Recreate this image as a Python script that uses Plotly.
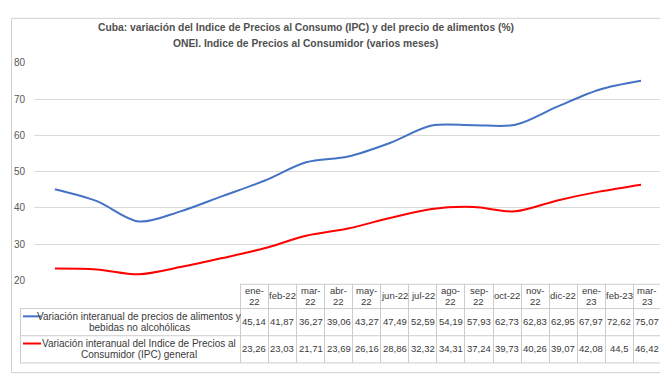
import plotly.graph_objects as go

# ---------------- data ----------------
categories = ["ene-22", "feb-22", "mar-22", "abr-22", "may-22", "jun-22", "jul-22",
              "ago-22", "sep-22", "oct-22", "nov-22", "dic-22", "ene-23", "feb-23", "mar-23"]
header_labels = ["ene-<br>22", "feb-22", "mar-<br>22", "abr-<br>22", "may-<br>22", "jun-22",
                 "jul-22", "ago-<br>22", "sep-<br>22", "oct-22", "nov-<br>22", "dic-22",
                 "ene-<br>23", "feb-23", "mar-<br>23"]
food = [45.14, 41.87, 36.27, 39.06, 43.27, 47.49, 52.59, 54.19, 57.93, 62.73, 62.83,
        62.95, 67.97, 72.62, 75.07]
ipc = [23.26, 23.03, 21.71, 23.69, 26.16, 28.86, 32.32, 34.31, 37.24, 39.73, 40.26,
       39.07, 42.08, 44.5, 46.42]
series_names = ["Variación interanual de precios de alimentos y<br>bebidas no alcohólicas",
                "Variación interanual del Indice de Precios al<br>Consumidor (IPC) general"]
title_lines = ["Cuba: variación del Indice de Precios al Consumo (IPC) y del precio de alimentos (%)",
               "ONEI. Indice de Precios al Consumidor (varios meses)"]
y_ticks = [20, 30, 40, 50, 60, 70, 80]

# ---------------- styles ----------------
W, H = 668, 375
FONT = "Liberation Sans, Arial, sans-serif"
TXT = "#595959"
TBL_TXT = "#3a3a3a"
GRID = "#d9d9d9"
TBL_LINE = "#cccccc"
BORDER = "#d0d0d0"
COLORS = ["#4472C4", "#FF0000"]


def fx(p):
    return p / W


def fy(p):
    return 1 - p / H


def crisp(p):
    return int(p) + 0.5


fig = go.Figure()
for vals, name, color in zip([food, ipc], series_names, COLORS):
    fig.add_trace(go.Scatter(x=categories, y=vals, mode="lines", name=name.replace("<br>", " "),
                             line=dict(color=color, width=2, shape="spline", smoothing=0.9),
                             showlegend=False, hoverinfo="x+y"))

shapes = []
annotations = []

# outer chart border
shapes.append(dict(type="rect", xref="paper", yref="paper", x0=fx(crisp(3)), x1=fx(crisp(662)),
                   y0=fy(crisp(370)), y1=fy(crisp(5)), line=dict(color=BORDER, width=1), layer="below"))

# title
for i, t in enumerate(title_lines):
    annotations.append(dict(text=t, xref="paper", yref="paper", x=fx(298), y=fy(15 + 16 * i),
                            xanchor="center", yanchor="middle", showarrow=False,
                            font=dict(family=FONT, size=10.3, color="#505050", weight="bold")))

# ---------------- data table ----------------
tbl_left, col0, col_end = 12, 232.3, 653.5
ncol = len(categories)
cw = (col_end - col0) / ncol
r_head, r1, r2, r_end = 279, 304, 332, 360
line_style = dict(color=TBL_LINE, width=1)

# horizontal lines
shapes.append(dict(type="line", xref="paper", yref="paper", x0=fx(col0), x1=fx(col_end),
                   y0=fy(crisp(r_head)), y1=fy(crisp(r_head)), line=line_style))
for yy in (r1, r2, r_end):
    shapes.append(dict(type="line", xref="paper", yref="paper", x0=fx(tbl_left), x1=fx(col_end),
                       y0=fy(crisp(yy)), y1=fy(crisp(yy)), line=line_style))
# vertical lines
shapes.append(dict(type="line", xref="paper", yref="paper", x0=fx(crisp(tbl_left)),
                   x1=fx(crisp(tbl_left)), y0=fy(r1), y1=fy(r_end), line=line_style))
for i in range(ncol + 1):
    xx = crisp(col0 + i * cw)
    shapes.append(dict(type="line", xref="paper", yref="paper", x0=fx(xx), x1=fx(xx),
                       y0=fy(r_head), y1=fy(r_end), line=line_style))

num_font = dict(family=FONT, size=9.5, color=TBL_TXT)
lab_font = dict(family=FONT, size=10, color=TBL_TXT)

# header
for i, lab in enumerate(header_labels):
    cx = col0 + (i + 0.5) * cw
    parts = lab.split("<br>")
    mid = (r_head + r1) / 2
    ys = [mid] if len(parts) == 1 else [mid - 5.5, mid + 5.5]
    for p, yy in zip(parts, ys):
        annotations.append(dict(text=p, xref="paper", yref="paper", x=fx(cx), y=fy(yy),
                                xanchor="center", yanchor="middle", showarrow=False, font=num_font))

# rows
for (top, bot), vals, name, color in zip([(r1, r2), (r2, r_end)], [food, ipc], series_names, COLORS):
    mid = (top + bot) / 2
    parts = name.split("<br>")
    ys = [mid - 5.5, mid + 5.5]
    for p, yy in zip(parts, ys):
        annotations.append(dict(text=p, xref="paper", yref="paper", x=fx(131), y=fy(yy),
                                xanchor="center", yanchor="middle", showarrow=False, font=lab_font))
    # legend key
    shapes.append(dict(type="line", xref="paper", yref="paper", x0=fx(15), x1=fx(33),
                       y0=fy(ys[0]), y1=fy(ys[0]), line=dict(color=color, width=2)))
    for i, v in enumerate(vals):
        cx = col0 + (i + 0.5) * cw
        annotations.append(dict(text=f"{v:g}".replace(".", ","), xref="paper", yref="paper",
                                x=fx(cx), y=fy(mid), xanchor="center", yanchor="middle",
                                showarrow=False, font=num_font))

fig.update_layout(
    width=W, height=H, margin=dict(l=0, r=0, t=0, b=0),
    paper_bgcolor="white", plot_bgcolor="white",
    shapes=shapes, annotations=annotations,
    xaxis=dict(domain=[fx(26), fx(654)], range=[-0.5, ncol - 0.5], showticklabels=False,
               showgrid=False, zeroline=False, showline=False, ticks="", fixedrange=True),
    yaxis=dict(domain=[fy(275.5), fy(51.5)], range=[20, 80], tickvals=y_ticks, showgrid=True,
               gridcolor=GRID, gridwidth=1, zeroline=False, showline=False,
               ticks="outside", ticklen=6, tickcolor="rgba(0,0,0,0)",
               tickfont=dict(family=FONT, size=10, color=TXT), fixedrange=True),
)

fig.write_html("out.html", config={"displayModeBar": False})
